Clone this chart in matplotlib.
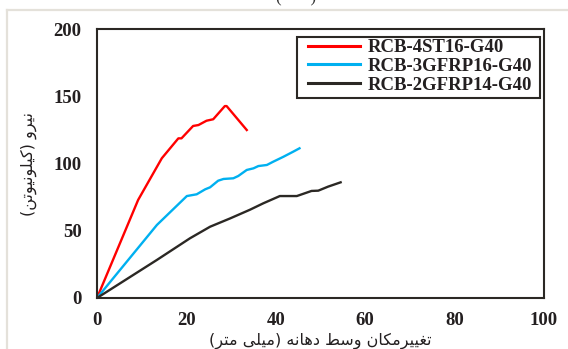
import matplotlib
matplotlib.use('Agg')
import matplotlib.pyplot as plt
from matplotlib.lines import Line2D
from matplotlib.patches import Rectangle

# load-deflection data
st16_x = [0, 9.2, 14.5, 18.2, 18.9, 21.5, 22.7, 24.5, 26.0, 28.6, 29.0, 33.5]
st16_y = [0, 72.9, 103.9, 118.7, 118.7, 127.9, 128.6, 131.8, 132.9, 142.7, 142.7, 124.9]

gfrp16_x = [0, 13.4, 20.1, 22.3, 24.2, 25.3, 27.1, 28.3, 30.5, 31.6, 33.5, 35.0, 36.1,
            38.0, 39.4, 41.7, 43.9, 45.3]
gfrp16_y = [0, 54.3, 75.8, 77.1, 80.8, 82.3, 87.2, 88.5, 89.0, 90.7, 95.2, 96.4, 98.1,
            98.9, 101.3, 105.0, 108.8, 111.3]

gfrp14_x = [0, 13.4, 20.8, 25.3, 29.8, 34.2, 37.2, 40.9, 44.7, 48.0, 49.5, 51.7, 54.5]
gfrp14_y = [0, 28.3, 44.4, 53.0, 59.2, 65.6, 70.4, 75.8, 75.8, 79.6, 79.8, 82.8, 86.0]

series_names = ['RCB-4ST16-G40', 'RCB-3GFRP16-G40', 'RCB-2GFRP14-G40']
series_colors = ['#ff0000', '#00b0f0', '#2b2824']

x_ticks = [0, 20, 40, 60, 80, 100]
y_ticks = [0, 50, 100, 150, 200]

x_label = 'تغییرمکان وسط دهانه (میلی متر)'
y_label = 'نیرو (کیلونیوتن)'


# matplotlib does no arabic shaping, so pick presentation forms by hand
# forms: isolated, final, initial, medial
FORMS = {
    'ا': ('\uFE8D', '\uFE8E', None, None),
    'د': ('\uFEA9', '\uFEAA', None, None),
    'ر': ('\uFEAD', '\uFEAE', None, None),
    'و': ('\uFEED', '\uFEEE', None, None),
    'ت': ('\uFE95', '\uFE96', '\uFE97', '\uFE98'),
    'س': ('\uFEB1', '\uFEB2', '\uFEB3', '\uFEB4'),
    'ط': ('\uFEC1', '\uFEC2', '\uFEC3', '\uFEC4'),
    'غ': ('\uFECD', '\uFECE', '\uFECF', '\uFED0'),
    'ل': ('\uFEDD', '\uFEDE', '\uFEDF', '\uFEE0'),
    'م': ('\uFEE1', '\uFEE2', '\uFEE3', '\uFEE4'),
    'ن': ('\uFEE5', '\uFEE6', '\uFEE7', '\uFEE8'),
    'ه': ('\uFEE9', '\uFEEA', '\uFEEB', '\uFEEC'),
    'ی': ('\uFBFC', '\uFBFD', '\uFBFE', '\uFBFF'),
    'ک': ('\uFB8E', '\uFB8F', '\uFB90', '\uFB91'),
}


def shape_rtl(text):
    out = []
    for i, ch in enumerate(text):
        if ch not in FORMS:
            out.append(ch)
            continue
        prev = text[i - 1] if i > 0 else ''
        nxt = text[i + 1] if i + 1 < len(text) else ''
        dual = FORMS[ch][2] is not None
        join_prev = prev in FORMS and FORMS[prev][2] is not None
        join_next = dual and nxt in FORMS
        if join_prev and join_next:
            out.append(FORMS[ch][3])
        elif join_prev:
            out.append(FORMS[ch][1])
        elif join_next:
            out.append(FORMS[ch][2])
        else:
            out.append(FORMS[ch][0])
    mirror = {'(': ')', ')': '('}
    return ''.join(mirror.get(c, c) for c in reversed(out))


fig = plt.figure(figsize=(5.68, 3.49), dpi=100)
ax = fig.add_axes([97 / 568, 51 / 349, 447 / 568, 269 / 349])

# light grey page frame and the cut caption at the top
fig.add_artist(Line2D([7 / 568, 7 / 568], [0, 1 - 10 / 349], transform=fig.transFigure,
                      color='#e4e1da', lw=1.6))
fig.add_artist(Line2D([7 / 568, 1], [1 - 10 / 349, 1 - 10 / 349], transform=fig.transFigure,
                      color='#e4e1da', lw=1.6))
fig.text(296 / 568, 1 + 2 / 349, '(       )', ha='center', va='center',
         fontsize=12, color='#333333', family='Liberation Serif')

for xs, ys, name, col in zip([st16_x, gfrp16_x, gfrp14_x], [st16_y, gfrp16_y, gfrp14_y],
                             series_names, series_colors):
    ax.plot(xs, ys, color=col, lw=1.7, label=name, solid_joinstyle='round')

ax.set_xlim(0, 100)
ax.set_ylim(0, 200)
ax.set_xticks(x_ticks)
ax.set_yticks(y_ticks)
ax.tick_params(axis='y', length=0, pad=11, labelsize=13.5, labelcolor='#231f20')
ax.tick_params(axis='x', length=0, pad=10, labelsize=13.5, labelcolor='#231f20')
for lab in ax.get_xticklabels() + ax.get_yticklabels():
    lab.set_fontfamily('Liberation Serif')
    lab.set_fontweight('bold')

for sp in ax.spines.values():
    sp.set_color('#2b2824')
    sp.set_linewidth(1.5)

ax.set_xlabel(shape_rtl(x_label), fontsize=11.5, family='DejaVu Sans', color='#231f20',
              labelpad=3)
ax.set_ylabel(shape_rtl(y_label), fontsize=11.5, family='DejaVu Sans', color='#231f20',
              labelpad=12)

# legend without its own frame, box drawn separately to get the wider side padding
leg = ax.legend(loc='upper left', bbox_to_anchor=(0.472, 0.962), frameon=False,
                borderpad=0, handlelength=2.8, handletextpad=0.4,
                labelspacing=0.08, borderaxespad=0,
                prop={'family': 'Liberation Serif', 'weight': 'bold', 'size': 13.5})
for h in leg.get_lines():
    h.set_linewidth(2.2)
for t in leg.get_texts():
    t.set_color('#231f20')
ax.add_patch(Rectangle((0.447, 0.743), 0.544, 0.227, transform=ax.transAxes,
                       fill=False, edgecolor='#2b2824', lw=1.5, zorder=5))

fig.savefig('out.png', dpi=100)
